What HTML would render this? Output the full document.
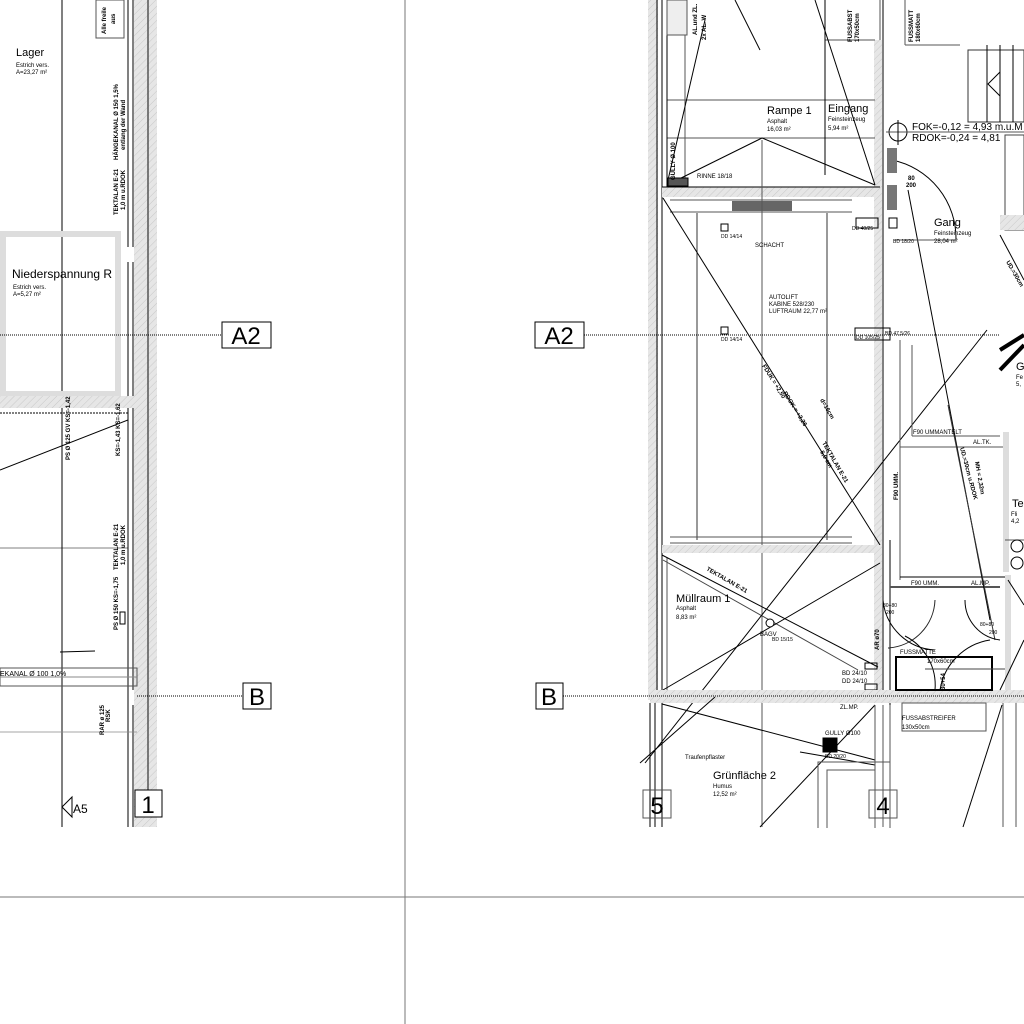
<!DOCTYPE html>
<html><head><meta charset="utf-8"><style>
html,body{margin:0;padding:0;background:#fff;}
svg{display:block;font-family:"Liberation Sans",sans-serif;}
</style></head><body>
<svg width="1024" height="1024" viewBox="0 0 1024 1024" xmlns="http://www.w3.org/2000/svg">
<defs>
<pattern id="h" width="5" height="5" patternUnits="userSpaceOnUse" patternTransform="rotate(45)">
<rect width="5" height="5" fill="#e6e6e6"/><line x1="0" y1="0" x2="0" y2="5" stroke="#c8c8c8" stroke-width="1"/></pattern>
</defs>
<rect width="1024" height="1024" fill="#fff"/>
<line x1="405" y1="0" x2="405" y2="1024" stroke="#777" stroke-width="1"/>
<line x1="0" y1="897" x2="1024" y2="897" stroke="#777" stroke-width="1"/>

<g stroke="#000" fill="none" stroke-width="1">
<rect x="134" y="0" width="23" height="827" fill="url(#h)" stroke="none"/>
<line x1="148" y1="0" x2="148" y2="790" stroke="#555" stroke-width="1.5"/>
<line x1="128" y1="0" x2="128" y2="247"/>
<line x1="133" y1="0" x2="133" y2="247"/>
<line x1="133" y1="262" x2="133" y2="690"/>
<line x1="128" y1="262" x2="128" y2="827"/>
<line x1="133" y1="705" x2="133" y2="827"/>
<line x1="62" y1="0" x2="62" y2="827"/>
<rect x="3" y="234" width="115" height="160" stroke="#ddd" stroke-width="6"/>
<rect x="0" y="396" width="134" height="12" fill="url(#h)" stroke="none"/>
<line x1="0" y1="413" x2="128" y2="413" stroke-dasharray="2,1"/>
<line x1="0" y1="548" x2="128" y2="548" stroke-width="0.5"/>
<line x1="0" y1="470" x2="128" y2="420"/>
<rect x="0" y="668" width="137" height="18" stroke="#555"/>
<line x1="0" y1="677" x2="137" y2="677" stroke="#888"/>
<line x1="0" y1="732" x2="137" y2="732" stroke="#888" stroke-width="0.7"/>
<line x1="60" y1="652" x2="95" y2="651"/>
<rect x="120" y="612" width="5" height="12"/>
<rect x="96" y="0" width="28" height="38" stroke="#555"/>
<path d="M72 797 L62 807 L72 817 Z"/>
</g>
<text x="16" y="56" font-size="11">Lager</text>
<text x="16" y="67" font-size="6">Estrich vers.</text>
<text x="16" y="74" font-size="6">A=23,27 m²</text>
<text x="12" y="278" font-size="12">Niederspannung R</text>
<text x="13" y="289" font-size="6">Estrich vers.</text>
<text x="13" y="296" font-size="6">A=5,27 m²</text>
<text x="0" y="676" font-size="7">EKANAL Ø 100 1,0%</text>
<text x="73" y="813" font-size="12">A5</text>
<g font-size="6" font-weight="bold">
<text transform="translate(118,160) rotate(-90)">HÄNGEKANAL Ø 150 1,5%</text>
<text transform="translate(125,150) rotate(-90)">entlang der Wand</text>
<text transform="translate(118,215) rotate(-90)">TEKTALAN E-21</text>
<text transform="translate(125,210) rotate(-90)">1,0 m u.RDOK</text>
<text transform="translate(118,570) rotate(-90)">TEKTALAN E-21</text>
<text transform="translate(125,565) rotate(-90)">1,0 m u.RDOK</text>
<text transform="translate(118,630) rotate(-90)">PS Ø 150 KS=-1,75</text>
<text transform="translate(70,460) rotate(-90)">PS Ø 125 GV KS=-1,42</text>
<text transform="translate(120,456) rotate(-90)">KS=-1,43 KS=-1,62</text>
<text transform="translate(104,735) rotate(-90)">RAR ø 125</text>
<text transform="translate(110,722) rotate(-90)">RSK</text>
<text transform="translate(106,34) rotate(-90)">Alle freile</text>
<text transform="translate(115,24) rotate(-90)">aus</text>
</g>
<line x1="0" y1="335" x2="222" y2="335" stroke="#000" stroke-dasharray="1,1"/>
<rect x="222" y="322" width="49" height="26" fill="#fff" stroke="#000"/>
<text x="246" y="344" font-size="24" text-anchor="middle">A2</text>
<line x1="137" y1="696" x2="243" y2="696" stroke="#000" stroke-dasharray="1,1"/>
<rect x="243" y="683" width="28" height="26" fill="#fff" stroke="#000"/>
<text x="257" y="705" font-size="24" text-anchor="middle">B</text>
<rect x="135" y="790" width="27" height="27" fill="#fff" stroke="#000"/>
<text x="148" y="813" font-size="24" text-anchor="middle">1</text>

<g fill="none" stroke="#000" stroke-width="1">
<rect x="648" y="0" width="10" height="700" fill="url(#h)" stroke="none"/>
<line x1="657" y1="0" x2="657" y2="690"/>
<line x1="662" y1="0" x2="662" y2="690"/>
<rect x="874" y="40" width="8" height="650" fill="url(#h)" stroke="none"/>
<line x1="883" y1="0" x2="883" y2="690"/>
<line x1="890" y1="540" x2="890" y2="827"/>
<line x1="667" y1="100" x2="875" y2="100" stroke="#555"/>
<line x1="667" y1="138" x2="875" y2="138" stroke="#555"/>
<line x1="667" y1="0" x2="667" y2="187"/>
<line x1="685" y1="0" x2="685" y2="180" stroke="#555"/>
<line x1="825" y1="40" x2="875" y2="40" stroke="#555"/>
<line x1="825" y1="0" x2="825" y2="175"/>
<line x1="667" y1="185" x2="762" y2="138"/>
<line x1="762" y1="138" x2="875" y2="185"/>
<line x1="668" y1="180" x2="705" y2="20"/>
<line x1="815" y1="0" x2="875" y2="185"/>
<line x1="735" y1="0" x2="760" y2="50"/>
<rect x="668" y="178" width="20" height="8" fill="#555"/>
<rect x="667" y="0" width="20" height="35" stroke="#555" fill="#eee"/>
<rect x="662" y="187" width="218" height="10" fill="url(#h)" stroke="none"/>
<line x1="662" y1="187" x2="880" y2="187"/>
<line x1="670" y1="200" x2="852" y2="200" stroke="#555"/>
<line x1="670" y1="212" x2="852" y2="212" stroke="#555"/>
<rect x="732" y="201" width="60" height="10" fill="#666" stroke="none"/>
<line x1="762" y1="140" x2="762" y2="827" stroke="#555"/>
<line x1="697" y1="213" x2="697" y2="540" stroke="#333"/>
<line x1="827" y1="213" x2="827" y2="540" stroke="#333"/>
<line x1="663" y1="198" x2="880" y2="545"/>
<rect x="721" y="224" width="7" height="7"/>
<rect x="721" y="327" width="7" height="7"/>
<rect x="856" y="218" width="22" height="10"/>
<rect x="855" y="328" width="35" height="12"/>
<line x1="670" y1="537" x2="852" y2="537" stroke="#555"/>
<line x1="670" y1="543" x2="852" y2="543" stroke="#555"/>
<rect x="662" y="545" width="218" height="8" fill="url(#h)" stroke="none"/>
<line x1="667" y1="557" x2="667" y2="690" stroke="#555"/>
<line x1="662" y1="555" x2="878" y2="667"/>
<line x1="663" y1="560" x2="858" y2="670" stroke="#444"/>
<line x1="663" y1="690" x2="880" y2="563"/>
<line x1="645" y1="763" x2="987" y2="330"/>
<circle cx="770" cy="623" r="4" fill="#fff"/>
<rect x="865" y="663" width="12" height="6"/>
<rect x="865" y="684" width="12" height="6"/>
<rect x="650" y="690" width="374" height="13" fill="url(#h)" stroke="none"/>
<line x1="563" y1="696" x2="1024" y2="696" stroke-dasharray="1,1"/>
<line x1="900" y1="340" x2="900" y2="580" stroke="#555"/>
<line x1="912" y1="345" x2="912" y2="436" stroke="#555"/>
<line x1="912" y1="436" x2="1000" y2="436" stroke="#555"/>
<line x1="900" y1="447" x2="1005" y2="447" stroke="#555"/>
<line x1="900" y1="577" x2="1005" y2="577"/>
<line x1="890" y1="587" x2="1000" y2="587" stroke="#555" stroke-width="2"/>
<rect x="1003" y="432" width="6" height="140" fill="#ddd" stroke="none"/>
<line x1="1005" y1="540" x2="1024" y2="540" stroke="#555"/>
<circle cx="1017" cy="546" r="6"/>
<circle cx="1017" cy="563" r="6"/>
<line x1="908" y1="190" x2="990" y2="620"/>
<line x1="948" y1="405" x2="995" y2="640" stroke="#333"/>
<path d="M892 160 A80 80 0 0 1 956 240" />
<line x1="956" y1="240" x2="895" y2="240" stroke="#555"/>
<rect x="887" y="148" width="10" height="25" fill="#777" stroke="none"/>
<rect x="887" y="185" width="10" height="25" fill="#777" stroke="none"/>
<rect x="889" y="218" width="8" height="10"/>
<circle cx="898" cy="132" r="9"/>
<line x1="886" y1="132" x2="1024" y2="132" stroke="#555"/>
<line x1="898" y1="120" x2="898" y2="145"/>
<rect x="968" y="50" width="56" height="72" stroke="#333"/>
<line x1="987" y1="45" x2="987" y2="122"/>
<line x1="1000" y1="45" x2="1000" y2="122"/>
<line x1="1013" y1="45" x2="1013" y2="122"/>
<path d="M1000 72 L988 84 L1000 96"/>
<rect x="1005" y="135" width="19" height="95" stroke="#444"/>
<rect x="1000" y="215" width="24" height="15" fill="url(#h)" stroke="none"/>
<line x1="1000" y1="235" x2="1024" y2="280"/>
<line x1="1000" y1="350" x2="1024" y2="335" stroke-width="4"/>
<line x1="1000" y1="370" x2="1024" y2="345" stroke-width="4"/>
<line x1="905" y1="0" x2="905" y2="45" stroke="#555"/>
<line x1="905" y1="45" x2="960" y2="45" stroke="#555"/>
<line x1="880" y1="0" x2="880" y2="40" stroke="#555"/>
<path d="M883 600 A55 55 0 0 0 935 650"/>
<path d="M935 600 A50 50 0 0 1 888 648" stroke="#222"/>
<path d="M965 600 A40 40 0 0 0 1000 640"/>
<path d="M905 636 A55 55 0 0 1 935 690"/>
<path d="M940 690 A60 60 0 0 1 990 640"/>
<rect x="896" y="657" width="96" height="33" stroke-width="2"/>
<line x1="925" y1="669" x2="1005" y2="669" stroke="#444"/>
<rect x="1005" y="575" width="6" height="115" fill="#ddd" stroke="none"/>
<line x1="1000" y1="690" x2="1024" y2="640"/>
<line x1="1008" y1="580" x2="1024" y2="605"/>
<line x1="650" y1="703" x2="650" y2="827"/>
<line x1="655" y1="703" x2="655" y2="827"/>
<line x1="662" y1="703" x2="662" y2="827"/>
<line x1="662" y1="704" x2="875" y2="760"/>
<line x1="800" y1="752" x2="875" y2="765"/>
<line x1="640" y1="763" x2="715" y2="697"/>
<line x1="760" y1="827" x2="875" y2="705"/>
<rect x="823" y="738" width="14" height="14" fill="#000"/>
<line x1="875" y1="705" x2="875" y2="827" stroke="#555"/>
<line x1="883" y1="705" x2="883" y2="827" stroke="#555"/>
<line x1="890" y1="705" x2="890" y2="827" stroke="#555"/>
<rect x="818" y="762" width="72" height="70" stroke="#555"/>
<rect x="827" y="770" width="48" height="60" stroke="#555"/>
<rect x="902" y="703" width="84" height="28" stroke="#555"/>
<line x1="1003" y1="703" x2="1003" y2="827" stroke="#555"/>
<line x1="1016" y1="703" x2="1016" y2="827" stroke="#555"/>
<line x1="963" y1="827" x2="1002" y2="705"/>
</g>
<rect x="0" y="828" width="1024" height="68" fill="#fff"/>
<line x1="405" y1="0" x2="405" y2="1024" stroke="#777"/>
<g font-size="6">
<text x="767" y="114" font-size="11">Rampe 1</text>
<text x="767" y="123">Asphalt</text>
<text x="767" y="131">16,03 m²</text>
<text x="828" y="112" font-size="11">Eingang</text>
<text x="828" y="121">Feinsteinzeug</text>
<text x="828" y="130">5,94 m²</text>
<text x="697" y="178">RINNE 18/18</text>
<text x="755" y="247">SCHACHT</text>
<text x="721" y="238" font-size="5">DD 14/14</text>
<text x="721" y="341" font-size="5">DD 14/14</text>
<text x="769" y="299">AUTOLIFT</text>
<text x="769" y="306">KABINE 528/230</text>
<text x="769" y="313">LUFTRAUM 22,77 m²</text>
<text x="852" y="230" font-size="5">DD 40/25</text>
<text x="893" y="243" font-size="5">BD 18/20</text>
<text x="934" y="226" font-size="11">Gang</text>
<text x="934" y="235">Feinsteinzeug</text>
<text x="934" y="243">28,04 m²</text>
<text x="912" y="130" font-size="10">FOK=-0,12 = 4,93 m.u.M</text>
<text x="912" y="141" font-size="10">RDOK=-0,24 = 4,81</text>
<text x="908" y="180" font-weight="bold">80</text>
<text x="906" y="187" font-weight="bold">200</text>
<text x="913" y="434">F90 UMMANTELT</text>
<text x="973" y="444">AL.TK.</text>
<text x="911" y="585">F90 UMM.</text>
<text x="971" y="585">AL.MP.</text>
<text x="676" y="602" font-size="11">Müllraum 1</text>
<text x="676" y="610">Asphalt</text>
<text x="676" y="619">8,83 m²</text>
<text x="760" y="636">BAGV</text>
<text x="772" y="641" font-size="5">BD 15/15</text>
<text x="842" y="675">BD 24/10</text>
<text x="842" y="683">DD 24/10</text>
<text x="900" y="654">FUSSMATTE</text>
<text x="927" y="663">170x60cm</text>
<text x="902" y="720">FUSSABSTREIFER</text>
<text x="902" y="729">130x50cm</text>
<text x="840" y="709">ZL.MP.</text>
<text x="825" y="735">GULLY Ø100</text>
<text x="825" y="758" font-size="5">BD 20/20</text>
<text x="685" y="759">Traufenpflaster</text>
<text x="713" y="779" font-size="11">Grünfläche 2</text>
<text x="713" y="788">Humus</text>
<text x="713" y="796">12,52 m²</text>
<text x="1012" y="507" font-size="11">Te</text>
<text x="1011" y="516">Fli</text>
<text x="1011" y="523">4,2</text>
<text x="1016" y="370" font-size="11">G</text>
<text x="1016" y="379">Fe</text>
<text x="1016" y="386">5,</text>
<text x="883" y="607" font-size="5">80+80</text>
<text x="886" y="614" font-size="5">200</text>
<text x="980" y="626" font-size="5">80+80</text>
<text x="989" y="634" font-size="5">200</text>
<text x="885" y="335" font-size="5">BD 47,5/26</text>
<text x="856" y="339" font-size="5">DD 105/25</text>
</g>
<g font-size="6" font-weight="bold">
<text transform="translate(675,180) rotate(-90)">GULLY Ø 100</text>
<text transform="translate(898,500) rotate(-90)">F90 UMM.</text>
<text transform="translate(879,650) rotate(-90)">AR ø70</text>
<text transform="translate(762,366) rotate(58)">FDUK = +2,50</text>
<text transform="translate(783,393) rotate(58)">RDOK = +2,26</text>
<text transform="translate(820,400) rotate(60)">d=16cm</text>
<text transform="translate(822,443) rotate(60)">TEKTALAN E-21</text>
<text transform="translate(820,452) rotate(60)">5,0 cm</text>
<text transform="translate(706,570) rotate(30)">TEKTALAN E-21</text>
<text transform="translate(960,448) rotate(75)">UD.=30cm u.RDOK</text>
<text transform="translate(975,462) rotate(80)">MH = 2,32m</text>
<text transform="translate(1006,262) rotate(60)">UD.=30cm</text>
<text transform="translate(697,35) rotate(-90)">AL.und ZL.</text>
<text transform="translate(706,40) rotate(-90)">2x AL. W</text>
<text transform="translate(852,42) rotate(-90)">FUSSABST</text>
<text transform="translate(859,42) rotate(-90)">170x50cm</text>
<text transform="translate(913,42) rotate(-90)">FUSSMATT</text>
<text transform="translate(920,42) rotate(-90)">180x60cm</text>
<text transform="translate(945,690) rotate(-90)">30+54</text>
</g>
<rect x="535" y="322" width="49" height="26" fill="#fff" stroke="#000"/>
<line x1="584" y1="335" x2="1000" y2="335" stroke="#000" stroke-dasharray="1,1"/>
<text x="559" y="344" font-size="24" text-anchor="middle">A2</text>
<rect x="536" y="683" width="27" height="26" fill="#fff" stroke="#000"/>
<text x="549" y="705" font-size="24" text-anchor="middle">B</text>
<rect x="643" y="790" width="28" height="28" fill="none" stroke="#555"/>
<text x="657" y="814" font-size="24" text-anchor="middle">5</text>
<rect x="869" y="790" width="28" height="28" fill="none" stroke="#555"/>
<text x="883" y="814" font-size="24" text-anchor="middle">4</text>
</svg>
</body></html>
